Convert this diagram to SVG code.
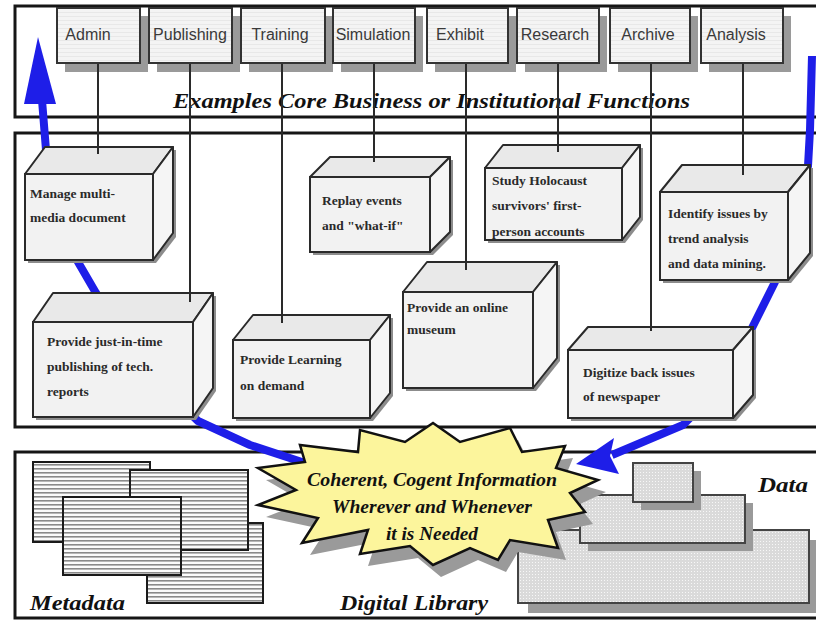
<svg xmlns="http://www.w3.org/2000/svg" width="816" height="621" viewBox="0 0 816 621">
<defs>
<pattern id="stripes" width="6" height="4" patternUnits="userSpaceOnUse">
<rect width="6" height="4" fill="#fbfbfb"/>
<rect y="0" width="6" height="1.6" fill="#8a8a8a"/>
</pattern>
<pattern id="stipple" width="3" height="3" patternUnits="userSpaceOnUse">
<rect width="3" height="3" fill="#dadada"/>
<rect x="1" y="1" width="1" height="1" fill="#f7f7f7"/>
</pattern>
<pattern id="grid" width="4" height="4" patternUnits="userSpaceOnUse">
<rect width="4" height="4" fill="#f4f4f4"/>
<rect width="4" height="1" fill="#e8e8e8"/>
</pattern>
</defs>
<style>
.panel{fill:none;stroke:#161616;stroke-width:3}
.tab{fill:url(#grid);stroke:#333;stroke-width:2}
.tabsh{fill:#9a9a9a}
.tabtxt{font-family:"Liberation Sans",Arial,sans-serif;font-size:16px;fill:#3a3a3a}
.conn{stroke:#2a2a2a;stroke-width:2;fill:none}
.blue{stroke:#1e1ee8;stroke-width:8;fill:none;stroke-linejoin:round}
.bluef{fill:#1e1ee8}
.front{fill:#f2f2f2;stroke:#2a2a2a;stroke-width:2}
.top{fill:#e9e9e9;stroke:#2a2a2a;stroke-width:2;stroke-linejoin:round}
.side{fill:#f5f5f5;stroke:#2a2a2a;stroke-width:2;stroke-linejoin:round}
.bsh{fill:#8c8c8c}
.btxt{font-family:"Liberation Serif","Times New Roman",serif;font-size:13.5px;font-weight:bold;fill:#2a2a2a}
.big{font-family:"Liberation Serif","Times New Roman",serif;font-style:italic;font-weight:bold;fill:#111}
.doc{fill:url(#stripes);stroke:#1a1a1a;stroke-width:2}
.data{fill:url(#stipple);stroke:#444;stroke-width:2}
.dsh{fill:#9a9a9a}
</style>
<rect width="816" height="621" fill="#ffffff"/>

<g id="panels">
<rect class="panel" x="15" y="6" width="815" height="111"/>
<rect class="panel" x="15" y="133" width="815" height="294"/>
<rect class="panel" x="15" y="452" width="815" height="166"/>
</g>

<g id="tabs">
<g id="tab-admin"><rect class="tabsh" x="65" y="16" width="83" height="56"/><rect class="tab" x="57" y="8" width="83" height="55"/><text class="tabtxt" x="88" y="40" text-anchor="middle">Admin</text></g>
<g id="tab-publishing"><rect class="tabsh" x="157" y="16" width="83" height="56"/><rect class="tab" x="149" y="8" width="83" height="55"/><text class="tabtxt" x="190" y="40" text-anchor="middle">Publishing</text></g>
<g id="tab-training"><rect class="tabsh" x="249" y="16" width="84" height="56"/><rect class="tab" x="241" y="8" width="84" height="55"/><text class="tabtxt" x="280" y="40" text-anchor="middle">Training</text></g>
<g id="tab-simulation"><rect class="tabsh" x="341" y="16" width="82" height="56"/><rect class="tab" x="333" y="8" width="82" height="55"/><text class="tabtxt" x="373" y="40" text-anchor="middle">Simulation</text></g>
<g id="tab-exhibit"><rect class="tabsh" x="435" y="16" width="81" height="56"/><rect class="tab" x="427" y="8" width="81" height="55"/><text class="tabtxt" x="460" y="40" text-anchor="middle">Exhibit</text></g>
<g id="tab-research"><rect class="tabsh" x="525" y="16" width="82" height="56"/><rect class="tab" x="517" y="8" width="82" height="55"/><text class="tabtxt" x="555" y="40" text-anchor="middle">Research</text></g>
<g id="tab-archive"><rect class="tabsh" x="618" y="16" width="80" height="56"/><rect class="tab" x="610" y="8" width="80" height="55"/><text class="tabtxt" x="648" y="40" text-anchor="middle">Archive</text></g>
<g id="tab-analysis"><rect class="tabsh" x="709" y="16" width="82" height="56"/><rect class="tab" x="701" y="8" width="82" height="55"/><text class="tabtxt" x="736" y="40" text-anchor="middle">Analysis</text></g>
</g>

<text class="big" x="173" y="108" font-size="21" textLength="517" lengthAdjust="spacingAndGlyphs">Examples Core Business or Institutional Functions</text>

<g id="flow-arrows">
<path class="blue" d="M305,463 L250,445 L198,421 L150,375 L96,293 L78,262 L60,215 L46,150 L42,100"/>
<polygon class="bluef" points="38,37 56,104 24,104"/>
<path class="blue" d="M812,56 L810,130 L808,166 L790,230 L775,282 L752,328 L720,388 L683,425 L612,455"/>
<polygon class="bluef" points="576,464 614,438 610,456 619,474"/>
</g>

<g id="box-manage">
<polygon class="bsh" points="28,263 28,177 48,150 176,150 176,237 156,263"/>
<polygon class="top" points="25,174 45,147 173,147 153,174"/>
<polygon class="side" points="153,174 173,147 173,233 153,260"/>
<rect class="front" x="25" y="174" width="128" height="86"/>
<text class="btxt" x="30" y="198">Manage multi-</text>
<text class="btxt" x="30" y="222">media document</text>
</g>
<g id="box-jit">
<polygon class="bsh" points="36,420 36,325 56,296 216,296 216,391 196,420"/>
<polygon class="top" points="33,322 53,293 213,293 193,322"/>
<polygon class="side" points="193,322 213,293 213,388 193,417"/>
<rect class="front" x="33" y="322" width="160" height="95"/>
<text class="btxt" x="47" y="346">Provide just-in-time</text>
<text class="btxt" x="47" y="371">publishing of tech.</text>
<text class="btxt" x="47" y="396">reports</text>
</g>
<g id="box-learning">
<polygon class="bsh" points="236,421 236,343 256,318 393,318 393,396 373,421"/>
<polygon class="top" points="233,340 253,315 390,315 370,340"/>
<polygon class="side" points="370,340 390,315 390,393 370,418"/>
<rect class="front" x="233" y="340" width="137" height="78"/>
<text class="btxt" x="240" y="364">Provide Learning</text>
<text class="btxt" x="240" y="390">on demand</text>
</g>
<g id="box-replay">
<polygon class="bsh" points="313,255 313,180 333,160 453,160 453,235 433,255"/>
<polygon class="top" points="310,177 330,157 450,157 430,177"/>
<polygon class="side" points="430,177 450,157 450,232 430,252"/>
<rect class="front" x="310" y="177" width="120" height="75"/>
<text class="btxt" x="322" y="205">Replay events</text>
<text class="btxt" x="322" y="230">and "what-if"</text>
</g>
<g id="box-study">
<polygon class="bsh" points="488,243 488,171 506,148 643,148 643,220 625,243"/>
<polygon class="top" points="485,168 503,145 640,145 622,168"/>
<polygon class="side" points="622,168 640,145 640,217 622,240"/>
<rect class="front" x="485" y="168" width="137" height="72"/>
<text class="btxt" x="492" y="185">Study Holocaust</text>
<text class="btxt" x="492" y="210">survivors' first-</text>
<text class="btxt" x="492" y="236">person accounts</text>
</g>
<g id="box-museum">
<polygon class="bsh" points="406,391 406,295 430,265 560,265 560,361 536,391"/>
<polygon class="top" points="403,292 427,262 557,262 533,292"/>
<polygon class="side" points="533,292 557,262 557,358 533,388"/>
<rect class="front" x="403" y="292" width="130" height="96"/>
<text class="btxt" x="407" y="312">Provide an online</text>
<text class="btxt" x="407" y="334">museum</text>
</g>
<g id="box-identify">
<polygon class="bsh" points="663,283 663,195 685,168 813,168 813,256 791,283"/>
<polygon class="top" points="660,192 682,165 810,165 788,192"/>
<polygon class="side" points="788,192 810,165 810,253 788,280"/>
<rect class="front" x="660" y="192" width="128" height="88"/>
<text class="btxt" x="668" y="218">Identify issues by</text>
<text class="btxt" x="668" y="243">trend analysis</text>
<text class="btxt" x="668" y="268">and data mining.</text>
</g>
<g id="box-digitize">
<polygon class="bsh" points="571,421 571,353 591,330 756,330 756,398 736,421"/>
<polygon class="top" points="568,350 588,327 753,327 733,350"/>
<polygon class="side" points="733,350 753,327 753,395 733,418"/>
<rect class="front" x="568" y="350" width="165" height="68"/>
<text class="btxt" x="583" y="377">Digitize back issues</text>
<text class="btxt" x="583" y="401">of newspaper</text>
</g>

<g id="connectors">
<line class="conn" x1="98" y1="64" x2="98" y2="154"/>
<line class="conn" x1="190" y1="64" x2="190" y2="302"/>
<line class="conn" x1="282" y1="64" x2="282" y2="323"/>
<line class="conn" x1="374" y1="64" x2="374" y2="162"/>
<line class="conn" x1="466" y1="64" x2="466" y2="270"/>
<line class="conn" x1="558" y1="64" x2="558" y2="152"/>
<line class="conn" x1="651" y1="64" x2="651" y2="331"/>
<line class="conn" x1="743" y1="64" x2="743" y2="175"/>
</g>

<g id="metadata">
<rect class="doc" x="33" y="462" width="117" height="80"/>
<rect class="doc" x="147" y="523" width="116" height="80"/>
<rect class="doc" x="130" y="470" width="118" height="80"/>
<rect class="doc" x="63" y="497" width="118" height="78"/>
</g>

<g id="data">
<rect class="dsh" x="528" y="540" width="291" height="73"/>
<rect class="data" x="518" y="530" width="291" height="73"/>
<rect class="dsh" x="588" y="503" width="165" height="48"/>
<rect class="data" x="580" y="495" width="165" height="48"/>
<rect class="dsh" x="641" y="471" width="60" height="39"/>
<rect class="data" x="633" y="463" width="60" height="39"/>
</g>

<g id="star">
<polygon fill="#9a9a9a" points="441,435 468,454 518,440 530,464 573,458 564,480 606,492 578,505 593,524 556,532 566,560 518,552 506,572 478,560 441,577 418,558 368,566 376,542 310,555 326,530 266,517 304,502 266,480 313,474 308,457 366,464 368,442 413,454"/>
<polygon fill="#fcf59c" stroke="#111" stroke-width="2.5" stroke-linejoin="miter" points="433,423 460,442 510,428 522,452 565,446 556,468 598,480 570,493 585,512 548,520 558,548 510,540 498,560 470,548 433,565 410,546 360,554 368,530 302,543 318,518 258,505 296,490 258,468 305,462 300,445 358,452 360,430 405,442"/>
<text class="big" font-size="18" x="432" y="486" text-anchor="middle" textLength="250" lengthAdjust="spacingAndGlyphs" fill="#000">Coherent, Cogent Information</text>
<text class="big" font-size="18" x="432" y="513" text-anchor="middle" textLength="200" lengthAdjust="spacingAndGlyphs" fill="#000">Wherever and Whenever</text>
<text class="big" font-size="18" x="432" y="540" text-anchor="middle" textLength="92" lengthAdjust="spacingAndGlyphs" fill="#000">it is Needed</text>
</g>

<g id="labels">
<text class="big" x="30" y="610" font-size="21" textLength="95" lengthAdjust="spacingAndGlyphs">Metadata</text>
<text class="big" x="340" y="610" font-size="21" textLength="148" lengthAdjust="spacingAndGlyphs">Digital Library</text>
<text class="big" x="758" y="492" font-size="22" textLength="50" lengthAdjust="spacingAndGlyphs">Data</text>
</g>
</svg>
